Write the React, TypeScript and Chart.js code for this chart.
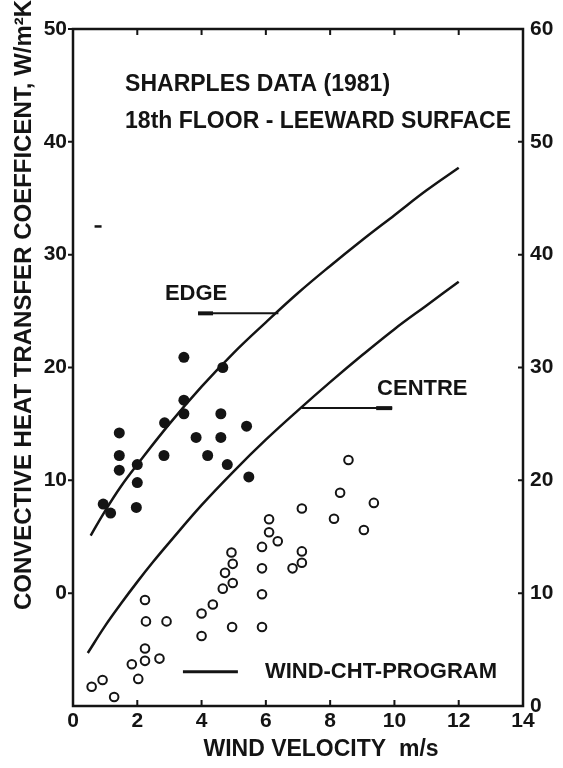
import React, { useEffect, useRef } from "react";
import { Chart, registerables } from "chart.js";

Chart.register(...registerables);

// ---- data (left-axis units, W/m²K as labelled on the left scale) ----
const edgeObsX = [1.44, 1.44, 1.44, 2.0, 2.0, 1.97, 0.94, 1.17, 2.85, 2.83, 3.45, 3.45, 3.45, 3.83, 4.19, 4.6, 4.6, 4.66, 4.8, 5.4, 5.47];
const edgeObsY = [14.2, 12.2, 10.9, 11.4, 9.8, 7.6, 7.9, 7.1, 15.1, 12.2, 20.9, 17.1, 15.9, 13.8, 12.2, 15.9, 13.8, 20.0, 11.4, 14.8, 10.3];

const centreObsX = [0.58, 0.92, 1.28, 2.03, 1.83, 2.24, 2.24, 2.69, 2.27, 2.91, 2.24, 4.0, 4.0, 4.35, 4.95, 4.66, 4.97, 4.73, 4.97, 4.93, 5.88, 5.88, 5.88, 5.88, 6.1, 6.37, 6.1, 6.83, 7.12, 7.12, 7.12, 8.12, 8.31, 8.57, 9.05, 9.36];
const centreObsY = [-8.3, -7.7, -9.2, -7.6, -6.3, -6.0, -4.9, -5.8, -2.5, -2.5, -0.6, -3.8, -1.8, -1.0, -3.0, 0.4, 0.9, 1.8, 2.6, 3.6, -3.0, -0.1, 2.2, 4.1, 5.4, 4.6, 6.55, 2.2, 2.7, 3.7, 7.5, 6.6, 8.9, 11.8, 5.6, 8.0];

const edgeCurveX = [0.55, 1, 1.5, 2, 3, 4, 5, 6, 7, 8, 9, 10, 11, 12];
const edgeCurveY = [5.1, 7.3, 9.5, 11.4, 15.0, 18.3, 21.3, 24.0, 26.6, 29.0, 31.3, 33.5, 35.7, 37.7];

const centreCurveX = [0.46, 1, 1.5, 2, 2.5, 3, 4, 5, 6, 7, 8, 9, 10, 11, 12];
const centreCurveY = [-5.3, -2.9, -0.9, 1.0, 2.8, 4.5, 7.8, 10.8, 13.6, 16.2, 18.7, 21.1, 23.4, 25.5, 27.6];

const strayX = [0.78];
const strayY = [32.5];

// leader lines (annotation), x range and level
const edgeLeaderX = [3.89, 6.39];
const edgeLeaderY = 24.8;
const centreLeaderX = [7.11, 9.93];
const centreLeaderY = 16.4;
const legendLineX = [3.42, 5.13];
const legendLineY = -6.96;

// axes
const xMin = 0, xMax = 14, xStep = 2;
const leftMin = -10, leftMax = 50, leftStep = 10;
const rightMin = 0, rightMax = 60, rightStep = 10;

const titleLines = ["SHARPLES DATA (1981)", "18th FLOOR - LEEWARD SURFACE"];
const edgeLabel = "EDGE";
const centreLabel = "CENTRE";
const legendLabel = "WIND-CHT-PROGRAM";
const yTitle = "CONVECTIVE HEAT TRANSFER COEFFICENT, W/m\u00B2K";
const xTitle = "WIND VELOCITY  m/s";

const INK = "#141414";
const FONT = '"Liberation Sans", Arial, sans-serif';

const zip = (xs: number[], ys: number[]) => xs.map((x, i) => ({ x, y: ys[i] }));

const decor = {
  id: "decor",
  afterDraw(chart: any) {
    const { ctx, chartArea: a, scales } = chart;
    const sx = scales.x, sl = scales.yL, sr = scales.yR;
    ctx.save();
    ctx.strokeStyle = INK;
    ctx.fillStyle = INK;
    ctx.lineCap = "butt";

    // frame
    ctx.lineWidth = 2.5;
    ctx.strokeRect(a.left, a.top, a.right - a.left, a.bottom - a.top);

    // tick marks
    ctx.lineWidth = 2;
    ctx.beginPath();
    for (let v = xMin + xStep; v < xMax; v += xStep) {
      const p = sx.getPixelForValue(v);
      ctx.moveTo(p, a.bottom); ctx.lineTo(p, a.bottom - 6);
      ctx.moveTo(p, a.top); ctx.lineTo(p, a.top + 6);
    }
    for (let v = 0; v <= leftMax; v += leftStep) {
      const p = sl.getPixelForValue(v);
      ctx.moveTo(a.left - 5, p); ctx.lineTo(a.left, p);
    }
    for (let v = rightMin + rightStep; v < rightMax; v += rightStep) {
      const p = sr.getPixelForValue(v);
      ctx.moveTo(a.right - 5, p); ctx.lineTo(a.right, p);
    }
    ctx.stroke();

    // leader lines
    const ly1 = sl.getPixelForValue(edgeLeaderY);
    const ex0 = sx.getPixelForValue(edgeLeaderX[0]);
    const ex1 = sx.getPixelForValue(edgeLeaderX[1]);
    ctx.lineWidth = 2;
    ctx.beginPath(); ctx.moveTo(ex0, ly1); ctx.lineTo(ex1, ly1); ctx.stroke();
    ctx.lineWidth = 4;
    ctx.beginPath(); ctx.moveTo(ex0, ly1); ctx.lineTo(ex0 + 15, ly1); ctx.stroke();

    const ly2 = sl.getPixelForValue(centreLeaderY);
    const cx0 = sx.getPixelForValue(centreLeaderX[0]);
    const cx1 = sx.getPixelForValue(centreLeaderX[1]);
    ctx.lineWidth = 2;
    ctx.beginPath(); ctx.moveTo(cx0, ly2); ctx.lineTo(cx1, ly2); ctx.stroke();
    ctx.lineWidth = 4;
    ctx.beginPath(); ctx.moveTo(cx1 - 16, ly2); ctx.lineTo(cx1, ly2); ctx.stroke();

    // legend sample line
    const lgY = sl.getPixelForValue(legendLineY);
    ctx.lineWidth = 3;
    ctx.beginPath();
    ctx.moveTo(sx.getPixelForValue(legendLineX[0]), lgY);
    ctx.lineTo(sx.getPixelForValue(legendLineX[1]), lgY);
    ctx.stroke();

    // texts inside the plot
    ctx.textBaseline = "middle";
    ctx.textAlign = "left";
    ctx.font = `bold 23px ${FONT}`;
    ctx.fillText(titleLines[0], sx.getPixelForValue(1.62), sl.getPixelForValue(45.1));
    ctx.fillText(titleLines[1], sx.getPixelForValue(1.62), sl.getPixelForValue(41.8));
    ctx.font = `bold 22px ${FONT}`;
    ctx.fillText(edgeLabel, sx.getPixelForValue(2.86), sl.getPixelForValue(26.5));
    ctx.fillText(centreLabel, sx.getPixelForValue(9.46), sl.getPixelForValue(18.1));
    ctx.fillText(legendLabel, sx.getPixelForValue(5.97), sl.getPixelForValue(-7.0));

    // axis titles
    ctx.font = `bold 23px ${FONT}`;
    ctx.textAlign = "center";
    ctx.fillText(xTitle, 321, 750);
    ctx.save();
    ctx.translate(24, 305);
    ctx.rotate(-Math.PI / 2);
    ctx.font = `bold 24px ${FONT}`;
    ctx.fillText(yTitle, 0, 0);
    ctx.restore();

    ctx.restore();
  },
};

export default function App() {
  const ref = useRef<HTMLCanvasElement | null>(null);

  useEffect(() => {
    if (!ref.current) return;
    const tickFont = { family: FONT, size: 21, weight: "bold" as const };
    const chart = new Chart(ref.current, {
      type: "scatter",
      data: {
        datasets: [
          {
            label: "Edge (program)",
            type: "line",
            data: zip(edgeCurveX, edgeCurveY),
            borderColor: INK,
            borderWidth: 2.5,
            pointRadius: 0,
            fill: false,
            tension: 0.4,
            yAxisID: "yL",
          },
          {
            label: "Centre (program)",
            type: "line",
            data: zip(centreCurveX, centreCurveY),
            borderColor: INK,
            borderWidth: 2.5,
            pointRadius: 0,
            fill: false,
            tension: 0.4,
            yAxisID: "yL",
          },
          {
            label: "Edge (measured)",
            data: zip(edgeObsX, edgeObsY),
            backgroundColor: INK,
            borderColor: INK,
            borderWidth: 0,
            pointRadius: 5.5,
            yAxisID: "yL",
          },
          {
            label: "Centre (measured)",
            data: zip(centreObsX, centreObsY),
            backgroundColor: "rgba(0,0,0,0)",
            borderColor: INK,
            borderWidth: 2,
            pointRadius: 4.3,
            yAxisID: "yL",
          },
          {
            label: "mark",
            data: zip(strayX, strayY),
            pointStyle: "line",
            borderColor: INK,
            borderWidth: 2.5,
            pointRadius: 3.5,
            yAxisID: "yL",
          },
        ],
      },
      options: {
        responsive: false,
        animation: false,
        layout: { padding: { top: 29, left: 0, right: 0, bottom: 0 } },
        plugins: { legend: { display: false }, tooltip: { enabled: false }, title: { display: false } },
        scales: {
          x: {
            type: "linear",
            min: xMin,
            max: xMax,
            ticks: { stepSize: xStep, color: INK, font: tickFont, padding: 3, maxRotation: 0 },
            grid: { display: false, drawTicks: false },
            border: { display: false },
            afterFit: (s: any) => { s.height = 62; },
          },
          yL: {
            type: "linear",
            position: "left",
            min: leftMin,
            max: leftMax,
            ticks: {
              stepSize: leftStep,
              color: INK,
              font: tickFont,
              padding: 6,
              callback: (v: any) => (Number(v) < 0 ? "" : String(v)),
            },
            grid: { display: false, drawTicks: false },
            border: { display: false },
            afterFit: (s: any) => { s.width = 73; },
          },
          yR: {
            type: "linear",
            position: "right",
            min: rightMin,
            max: rightMax,
            ticks: { stepSize: rightStep, color: INK, font: tickFont, padding: 7 },
            grid: { display: false, drawTicks: false },
            border: { display: false },
            afterFit: (s: any) => { s.width = 40; },
          },
        },
      },
      plugins: [decor],
    } as any);
    return () => chart.destroy();
  }, []);

  return (
    <div style={{ position: "fixed", left: 0, top: 0, width: 563, height: 768, background: "#fff" }}>
      <canvas ref={ref} width={563} height={768} style={{ width: 563, height: 768, display: "block" }} />
    </div>
  );
}
